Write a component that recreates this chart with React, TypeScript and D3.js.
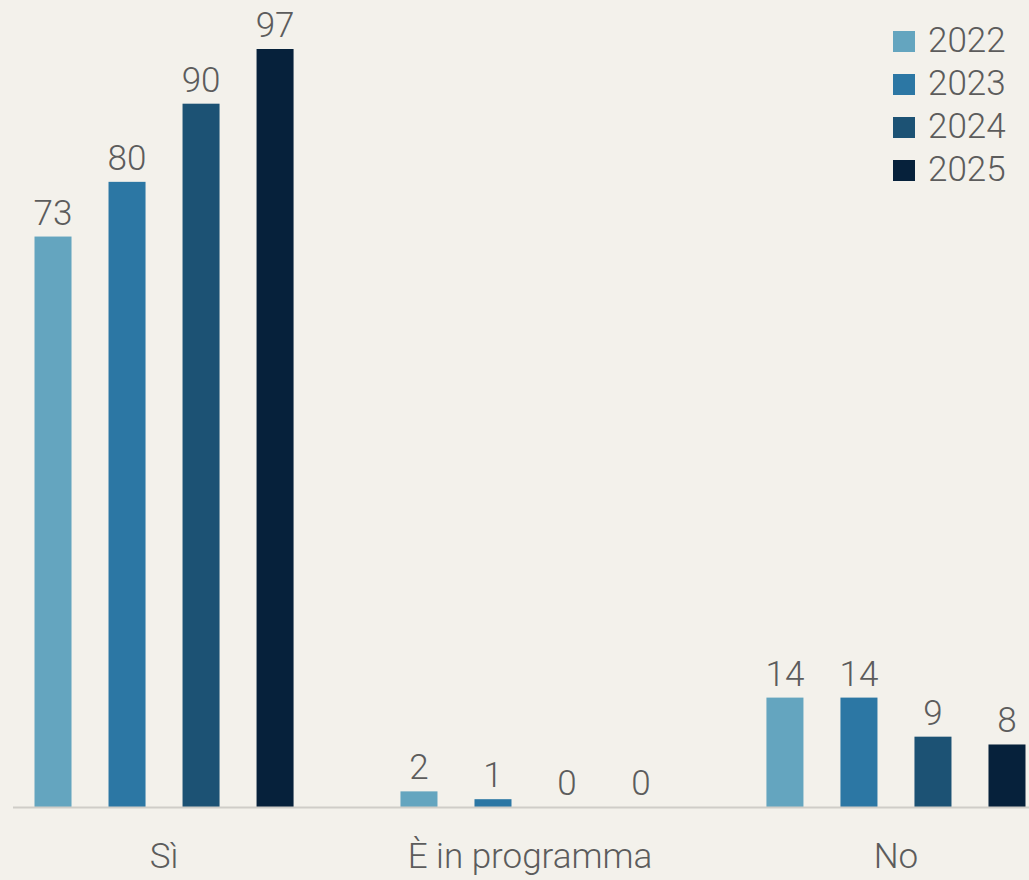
import React from "react";
import * as d3 from "d3";

const categories = ["Sì", "È in programma", "No"];
const years = ["2022", "2023", "2024", "2025"];
const values2022 = [73, 2, 14];
const values2023 = [80, 1, 14];
const values2024 = [90, 0, 9];
const values2025 = [97, 0, 8];
const colors = ["#64a5bf", "#2c77a4", "#1c5274", "#06213b"];

const W = 1029;
const H = 880;
const FONT = "Roboto, 'Noto Sans', sans-serif";
const TEXT = "#5c5c5c";

export default function App() {
  const series = [values2022, values2023, values2024, values2025];
  const x0 = d3.scaleBand<string>().domain(categories).range([16, 1044]).paddingInner(0.191).paddingOuter(0);
  const x1 = d3.scaleBand<string>().domain(years).range([0, x0.bandwidth()]).paddingInner(0.5).paddingOuter(0.25);
  const y = d3.scaleLinear().domain([0, 97]).range([807, 49]);

  return (
    <svg width={W} height={H} style={{ position: "absolute", left: 0, top: 0, background: "#f3f1eb" }}>
      <rect x={0} y={0} width={W} height={H} fill="#f3f1eb" />
      {categories.map((c, ci) => (
        <g key={c} transform={`translate(${x0(c)},0)`}>
          {years.map((yr, yi) => {
            const v = series[yi][ci];
            const bx = x1(yr)!;
            return (
              <g key={yr}>
                <rect x={bx} y={y(v)} width={x1.bandwidth()} height={y(0) - y(v)} fill={colors[yi]} />
                <text
                  x={bx + x1.bandwidth() / 2}
                  y={y(v) - 12}
                  textAnchor="middle"
                  fontFamily={FONT}
                  fontWeight={300}
                  fontSize={35}
                  fill={TEXT}
                >
                  {v}
                </text>
              </g>
            );
          })}
          <text
            x={x0.bandwidth() / 2}
            y={868}
            textAnchor="middle"
            fontFamily={FONT}
            fontWeight={300}
            fontSize={35}
            fill={TEXT}
          >
            {c}
          </text>
        </g>
      ))}
      <line x1={13} x2={W} y1={y(0) + 0.5} y2={y(0) + 0.5} stroke="#cfcdc8" strokeWidth={2} />
      {years.map((yr, i) => (
        <g key={yr} transform={`translate(893, ${31 + i * 43})`}>
          <rect x={0} y={0} width={22} height={21} fill={colors[i]} />
          <text x={35} y={21} fontFamily={FONT} fontWeight={300} fontSize={35} fill={TEXT}>
            {yr}
          </text>
        </g>
      ))}
    </svg>
  );
}
